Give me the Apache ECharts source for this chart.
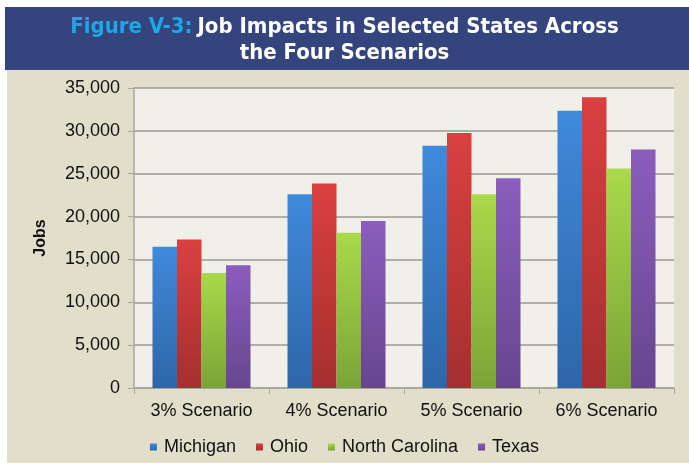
<!DOCTYPE html>
<html>
<head>
    <meta charset="utf-8">
    <title>Figure V-3: Job Impacts in Selected States</title>
    <script src="https://cdn.jsdelivr.net/npm/echarts@6.0.0/dist/echarts.min.js"></script>
    <style>
        body { margin: 0; background: #fff; }
    </style>
</head>
<body>
    <div id="main" style="width: 689px; height: 465px;"></div>

    <script>
        // 데이터
        var scenarios = ['3% Scenario', '4% Scenario', '5% Scenario', '6% Scenario'];
        var michigan = [16470, 22600, 28260, 32350];
        var ohio = [17330, 23850, 29740, 33920];
        var northCarolina = [13430, 18100, 22600, 25600];
        var texas = [14320, 19480, 24470, 27830];
        var yTicks = [0, 5000, 10000, 15000, 20000, 25000, 30000, 35000];

        var chartDom = document.getElementById('main');
        var myChart = echarts.init(chartDom);

        function grad(top, bottom) {
            return new echarts.graphic.LinearGradient(0, 0, 0, 1, [
                { offset: 0, color: top },
                { offset: 1, color: bottom }
            ]);
        }

        function makeSeries(name, data, top, bottom) {
            return {
                name: name,
                type: 'bar',
                data: data,
                barWidth: 24.5,
                barGap: '0%',
                itemStyle: {
                    color: grad(top, bottom),
                    shadowColor: 'rgba(0,0,0,0.5)',
                    shadowBlur: 6,
                    shadowOffsetX: 3,
                    shadowOffsetY: -2
                }
            };
        }

        var labelFont = 'Liberation Sans, Arial, sans-serif';

        var option = {
            backgroundColor: '#ffffff',
            color: ['#3b82d4', '#d63b3b', '#9fd046', '#8658b8'],
            graphic: [
                {
                    type: 'rect',
                    z: -10,
                    shape: { x: 7, y: 70, width: 682, height: 393 },
                    style: { fill: '#e1dfca' }
                },
                {
                    type: 'rect',
                    z: -10,
                    shape: { x: 5, y: 7, width: 684, height: 63 },
                    style: { fill: '#34447c' }
                }
            ],
            title: {
                left: 'center',
                top: 9,
                text: '{a|Figure V-3:} {b|Job Impacts in Selected States Across}\n{b|the Four Scenarios}',
                textStyle: {
                    rich: {
                        a: {
                            color: '#1ba8e6',
                            fontFamily: 'Liberation Sans Narrow, DejaVu Sans Condensed, sans-serif',
                            fontWeight: 'bold',
                            fontSize: 22,
                            lineHeight: 26
                        },
                        b: {
                            color: '#ffffff',
                            fontFamily: 'Liberation Sans Narrow, DejaVu Sans Condensed, sans-serif',
                            fontWeight: 'bold',
                            fontSize: 22,
                            lineHeight: 26
                        }
                    }
                }
            },
            legend: {
                bottom: 4,
                left: 'center',
                itemWidth: 7,
                itemHeight: 7,
                itemGap: 20,
                icon: 'rect',
                textStyle: {
                    fontFamily: labelFont,
                    fontSize: 18,
                    color: '#111',
                    padding: [10, 0, 0, 2]
                },
                data: ['Michigan', 'Ohio', 'North Carolina', 'Texas']
            },
            grid: {
                left: 134,
                right: 15,
                top: 88,
                bottom: 77,
                show: true,
                backgroundColor: '#f0f0e8',
                borderWidth: 0
            },
            xAxis: {
                type: 'category',
                data: scenarios,
                axisLine: { lineStyle: { color: '#a8a8a0', width: 1.5 } },
                axisTick: { show: true, length: 6, lineStyle: { color: '#a8a8a0' } },
                axisLabel: {
                    margin: 14,
                    fontFamily: labelFont,
                    fontSize: 18,
                    color: '#111'
                }
            },
            yAxis: {
                type: 'value',
                name: 'Jobs',
                nameLocation: 'middle',
                nameGap: 85,
                nameRotate: 90,
                nameTextStyle: {
                    fontFamily: labelFont,
                    fontSize: 16,
                    fontWeight: 'bold',
                    color: '#111'
                },
                min: yTicks[0],
                max: yTicks[yTicks.length - 1],
                interval: 5000,
                axisLine: { show: true, lineStyle: { color: '#a8a8a0', width: 1.5 } },
                axisTick: { show: true, length: 6, lineStyle: { color: '#a8a8a0' } },
                splitLine: { lineStyle: { color: '#9a9a92', width: 1.5 } },
                axisLabel: {
                    margin: 14,
                    fontFamily: labelFont,
                    fontSize: 18,
                    color: '#111',
                    formatter: function (v) {
                        return v.toLocaleString('en-US');
                    }
                }
            },
            series: [
                makeSeries('Michigan', michigan, '#4089db', '#2d66a8'),
                makeSeries('Ohio', ohio, '#da4040', '#a52f2f'),
                makeSeries('North Carolina', northCarolina, '#a8da4a', '#7ba437'),
                makeSeries('Texas', texas, '#8b5dbd', '#67468f')
            ]
        };

        myChart.setOption(option);
    </script>
</body>
</html>
